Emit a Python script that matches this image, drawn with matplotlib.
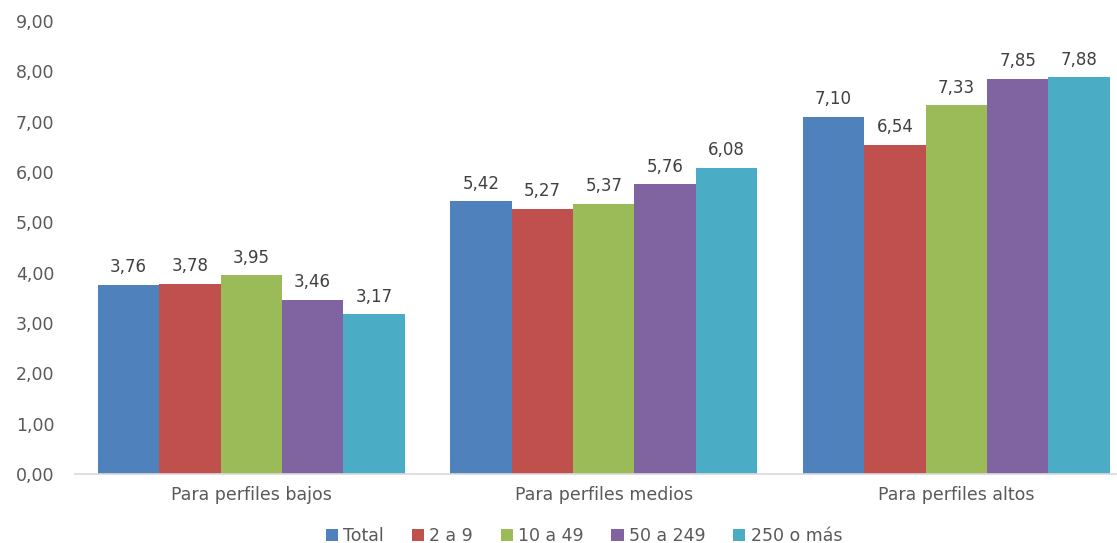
import matplotlib
matplotlib.use("Agg")
import matplotlib.pyplot as plt
import numpy as np

plt.rcParams["font.family"] = ["DejaVu Sans"]

categories = ["Para perfiles bajos", "Para perfiles medios", "Para perfiles altos"]
series_names = ["Total", "2 a 9", "10 a 49", "50 a 249", "250 o más"]
total = [3.76, 5.42, 7.10]
s_2_9 = [3.78, 5.27, 6.54]
s_10_49 = [3.95, 5.37, 7.33]
s_50_249 = [3.46, 5.76, 7.85]
s_250 = [3.17, 6.08, 7.88]
yticks = [0, 1, 2, 3, 4, 5, 6, 7, 8, 9]

colors = ["#4F81BD", "#C0504D", "#9BBB59", "#8064A2", "#4BACC6"]
text_color = "#595959"

fig = plt.figure(figsize=(11.17, 5.43), dpi=100)
ax = fig.add_axes([75 / 1117, 1 - 474 / 543, 1 - 75 / 1117, (474 - 21) / 543])

x = np.arange(len(categories))
width = 0.174
for i, (name, vals) in enumerate(zip(series_names, [total, s_2_9, s_10_49, s_50_249, s_250])):
    pos = x + (i - 2) * width
    ax.bar(pos, vals, width, color=colors[i], label=name)
    for p, v in zip(pos, vals):
        ax.text(p, v + 0.17, f"{v:.2f}".replace(".", ","), ha="center", va="bottom",
                fontsize=12, color="#404040")

ax.set_ylim(0, 9)
ax.set_xlim(-0.5, 2.456)
ax.set_yticks(yticks)
ax.set_yticklabels([f"{t:.2f}".replace(".", ",") for t in yticks])
ax.set_xticks(x)
ax.set_xticklabels(categories)
ax.tick_params(axis="both", length=0, labelsize=12.5, colors=text_color)
ax.tick_params(axis="y", pad=15)
ax.tick_params(axis="x", pad=9)
for side in ["top", "right", "left"]:
    ax.spines[side].set_visible(False)
ax.spines["bottom"].set_color("#D9D9D9")
ax.spines["bottom"].set_linewidth(1.2)

fig.legend(loc="center", bbox_to_anchor=(584 / 1117, 1 - 536 / 543), ncol=5, frameon=False,
           fontsize=12.5, labelcolor=text_color, handlelength=0.7, handleheight=0.7,
           handletextpad=0.3, columnspacing=1.6)

fig.savefig("out.png", dpi=100)
